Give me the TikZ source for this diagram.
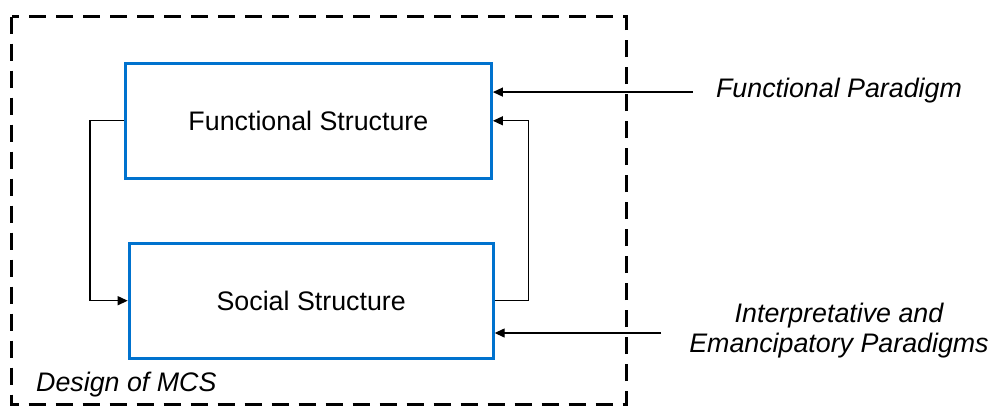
\documentclass[tikz,border=0pt]{standalone}
\usepackage{fontspec}
\setmainfont{Liberation Sans}
\usetikzlibrary{arrows.meta,positioning,calc}
\definecolor{boxblue}{RGB}{0,114,206}

\begin{document}
\begin{tikzpicture}[x=1pt,y=-1pt,
    font=\fontsize{26.8}{30}\selectfont,
    structbox/.style={draw=boxblue, line width=3pt, inner sep=0pt},
    paradigm/.style={font=\fontsize{26.8}{30}\selectfont\itshape, align=center, inner sep=3pt},
    arr/.style={line width=1.3pt, -{Triangle[length=10pt,width=9pt]}},
    frame/.style={line width=3pt, dash pattern=on 17pt off 10pt}]
      \useasboundingbox (0,0) rectangle (991,405);

      % design of MCS
      \draw[frame] (11.5,16.5) rectangle (626,404.5);
      \node[anchor=base west, inner sep=0pt, font=\fontsize{26.8}{30}\selectfont\itshape] (mcs) at (36,391) {Design of MCS};

      % the two structures
      \node[structbox, minimum width=366pt, minimum height=114.5pt] (func) at (308.4,120.8) {Functional Structure};
      \node[structbox, minimum width=364pt, minimum height=115.3pt] (social) at (311.2,300.7) {Social Structure};

      % loops between them
      \draw[arr] (func.west) -- ++(-34,0) |- (social.west);
      \draw[arr] (social.east) -- ++(34,0) |- (func.east);

      % paradigms
      \node[paradigm, anchor=base] (fp) at (839,97) {Functional Paradigm};
      \node[paradigm] (ip) at (839,331) {Interpretative and\\Emancipatory Paradigms};
      \draw[arr] ([xshift=-20pt,yshift=-2pt]fp.west) -- ([yshift=-2pt]fp.west -| func.east);
      \draw[arr] ([xshift=-25pt,yshift=-2pt]ip.west) -- ([yshift=-2pt]ip.west -| social.east);

    \end{tikzpicture}
\end{document}
